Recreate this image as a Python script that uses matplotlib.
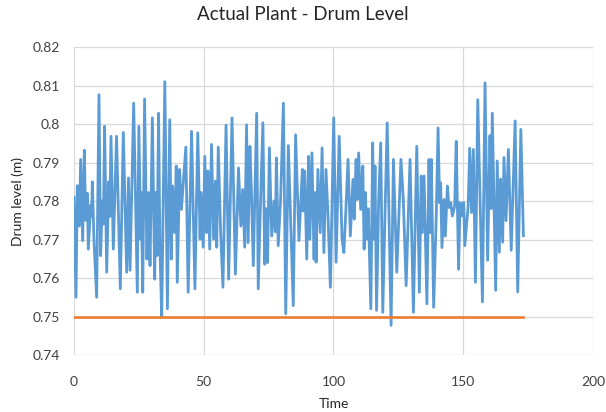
import matplotlib.pyplot as plt

# время и уровень в барабане (пики и провалы колебаний)
time = [0.0, 0.77, 1.28, 2.06, 2.57, 3.34, 3.98, 4.5, 5.14, 5.52, 6.42, 6.8, 7.06, 7.7,
        8.73, 9.63, 10.27, 10.9, 11.3, 11.8, 12.6, 13.4, 13.8, 14.26, 15.16, 16.4, 17.85,
        19.0, 20.3, 21.0, 21.6, 23.0, 24.4, 25.0, 25.7, 25.9, 26.5, 27.2, 28.1, 28.7,
        29.3, 30.2, 31.1, 31.5, 32.0, 32.6, 33.1, 33.8, 35.0, 36.0, 36.9, 37.5, 38.0,
        38.8, 39.4, 39.8, 40.7, 41.4, 43.1, 44.0, 45.3, 46.6, 47.7, 48.6, 48.9, 49.8,
        50.4, 51.1, 51.6, 52.3, 53.0, 53.8, 54.5, 55.0, 55.6, 56.5, 57.4, 58.6, 59.6,
        60.9, 62.2, 63.4, 64.3, 65.0, 65.8, 66.5, 67.1, 67.8, 68.4, 69.1, 69.8, 70.4,
        71.0, 71.9, 72.8, 73.5, 74.0, 74.6, 75.3, 76.2, 77.1, 77.6, 78.0, 78.7, 79.6,
        80.7, 81.6, 82.6, 83.5, 84.5, 85.4, 86.7, 88.0, 88.3, 88.9, 89.7, 90.4, 90.9,
        91.7, 92.5, 93.0, 93.3, 94.0, 94.9, 95.6, 96.3, 97.1, 97.9, 98.8, 100.1, 101.0,
        102.2, 103.3, 104.0, 104.8, 105.6, 106.5, 107.5, 108.0, 108.7, 109.2, 109.7,
        110.5, 111.3, 111.8, 112.3, 112.8, 113.4, 114.4, 115.1, 115.6, 116.0, 116.6,
        117.4, 118.2, 119.0, 119.8, 120.7, 122.2, 123.1, 124.4, 125.2, 126.0, 126.9,
        128.0, 129.5, 130.8, 132.1, 133.1, 133.8, 134.2, 134.9, 136.0, 136.8, 137.2,
        137.7, 138.6, 139.6, 140.3, 140.9, 141.3, 141.8, 142.6, 143.1, 143.9, 144.5,
        145.2, 145.8, 146.7, 147.3, 148.2, 148.8, 149.3, 150.2, 150.6, 151.9, 152.5,
        153.2, 153.9, 154.7, 155.6, 157.4, 158.4, 159.4, 160.3, 160.8, 161.2, 162.5,
        163.1, 163.9, 164.4, 165.2, 165.7, 166.5, 167.4, 168.5, 170.0, 171.0, 172.2,
        173.2]

level = [0.781, 0.755, 0.784, 0.7735, 0.7908, 0.7697, 0.7932, 0.775, 0.782, 0.7675,
         0.779, 0.776, 0.785, 0.770, 0.755, 0.8076, 0.7658, 0.780, 0.774, 0.7994,
         0.7615, 0.785, 0.776, 0.7968, 0.7675, 0.7968, 0.7572, 0.7978, 0.7615, 0.786,
         0.762, 0.8054, 0.7563, 0.7994, 0.7701, 0.7822, 0.7563, 0.8065, 0.7649, 0.7822,
         0.7632, 0.8016, 0.7597, 0.7822, 0.7658, 0.8028, 0.7684, 0.7498, 0.811, 0.752,
         0.8011, 0.7649, 0.7839, 0.7718, 0.7891, 0.7589, 0.7882, 0.7778, 0.794, 0.7563,
         0.7981, 0.7572, 0.7977, 0.7701, 0.7822, 0.768, 0.7916, 0.7718, 0.7878, 0.7675,
         0.7947, 0.7701, 0.7852, 0.768, 0.794, 0.772, 0.7576, 0.7997, 0.7597, 0.8016,
         0.761, 0.7886, 0.7735, 0.783, 0.768, 0.7998, 0.7692, 0.7942, 0.782, 0.7632,
         0.785, 0.8028, 0.7572, 0.780, 0.8003, 0.7636, 0.778, 0.764, 0.7938, 0.7709,
         0.780, 0.772, 0.7912, 0.7684, 0.780, 0.8054, 0.7507, 0.7944, 0.775, 0.7528,
         0.7972, 0.7697, 0.7882, 0.7774, 0.7878, 0.7649, 0.7916, 0.7701, 0.7925, 0.7649,
         0.7822, 0.7641, 0.7882, 0.7718, 0.7938, 0.7666, 0.7882, 0.7761, 0.7576, 0.8016,
         0.7641, 0.7968, 0.7701, 0.7666, 0.778, 0.7908, 0.7709, 0.7856, 0.7753, 0.7908,
         0.7804, 0.7925, 0.7778, 0.7891, 0.7675, 0.7822, 0.7701, 0.778, 0.752, 0.7951,
         0.7701, 0.7891, 0.7516, 0.780, 0.7951, 0.7511, 0.775, 0.8003, 0.7477, 0.7908,
         0.7615, 0.776, 0.7908, 0.7804, 0.758, 0.7908, 0.7511, 0.7942, 0.7563, 0.7865,
         0.7718, 0.7865, 0.7533, 0.7908, 0.7718, 0.7908, 0.7524, 0.776, 0.799, 0.7796,
         0.7847, 0.7679, 0.7804, 0.7709, 0.7839, 0.7783, 0.7796, 0.7761, 0.7787, 0.7955,
         0.7623, 0.7796, 0.7761, 0.7796, 0.7684, 0.7787, 0.7937, 0.777, 0.7934, 0.7589,
         0.8063, 0.7538, 0.8107, 0.7646, 0.797, 0.778, 0.8028, 0.7568, 0.7904, 0.7667,
         0.7857, 0.7693, 0.7913, 0.7749, 0.7934, 0.7672, 0.8008, 0.7564, 0.7986, 0.771]

# нижняя граница уровня
level_limit = 0.75

fig = plt.figure(figsize=(6.06, 4.12), dpi=100)
ax = fig.add_axes([0.1221, 0.1383, 0.8564, 0.7476])

ax.plot(time, level, color='#5B9BD5', linewidth=2.0)
ax.plot([time[0], time[-1]], [level_limit, level_limit], color='#ED7D31', linewidth=1.9)

ax.set_xlim(0, 200)
ax.set_ylim(0.74, 0.82)
ax.set_xticks([0, 50, 100, 150, 200])
ax.set_yticks([0.74, 0.75, 0.76, 0.77, 0.78, 0.79, 0.80, 0.81, 0.82])
ax.set_yticklabels(['0.74', '0.75', '0.76', '0.77', '0.78', '0.79', '0.8', '0.81', '0.82'])

ax.grid(True, color='#D9D9D9', linewidth=0.9)
ax.set_axisbelow(True)
for s in ax.spines.values():
    s.set_visible(False)
ax.tick_params(length=0, labelsize=10, colors='#404040')
ax.tick_params(axis='x', pad=15)
ax.tick_params(axis='y', pad=10)

for lab in ax.get_xticklabels() + ax.get_yticklabels():
    lab.set_family('Lato')

# заголовок по центру всей фигуры
fig.suptitle('Actual Plant - Drum Level', fontsize=13.5, family='Lato', color='#262626',
             x=0.5, y=0.985, va='top')
ax.set_xlabel('Time', fontsize=10, family='Lato', color='#262626', labelpad=7)
ax.set_ylabel('Drum level (m)', fontsize=10, family='Lato', color='#262626', labelpad=6)

fig.savefig('out.png', dpi=100)
